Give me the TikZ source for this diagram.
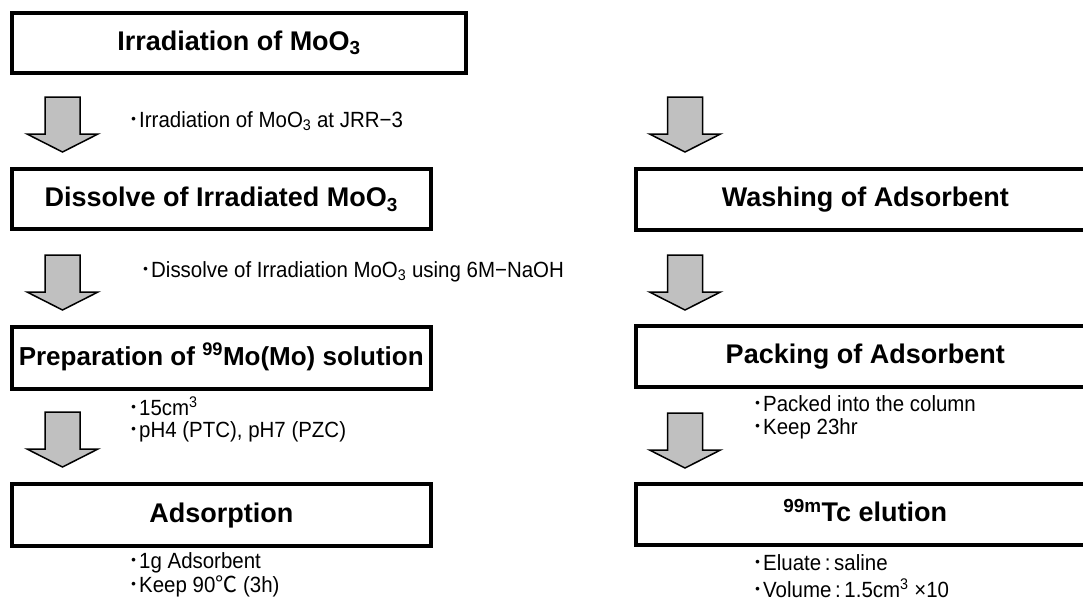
\documentclass[tikz,border=0pt]{standalone}
\usepackage{fontspec}
\setmainfont{Liberation Sans}
\newfontfamily\notefont[FakeStretch=0.93]{Liberation Sans}
\newfontfamily\jp{Noto Sans CJK JP}
\newcommand\bul{{\jp ･}}
\definecolor{arrowgray}{HTML}{C0C0C0}
\begin{document}
\begin{tikzpicture}[x=1pt,y=-1pt,
  box/.style={draw, line width=4pt, fill=white, inner sep=0pt,
    text height=19.5pt, text depth=4.5pt,
    font=\fontsize{27}{31}\selectfont\bfseries},
  note/.style={anchor=base west, inner sep=0pt,
    font=\notefont\fontsize{22}{26}\selectfont},
  garrow/.style={draw=black, line width=1.5pt, fill=arrowgray, line join=miter},
  downarrow/.pic={\draw[garrow] (-17.5,0) -- (17.5,0) -- (17.5,37) -- (35.5,37)
     -- (0,55) -- (-35.5,37) -- (-17.5,37) -- cycle;}]
\useasboundingbox (0,0) rectangle (1083,608);
\clip (0,0) rectangle (1083,608);
\fill[white] (0,0) rectangle (1083,608);

% left column boxes
\node[box, minimum width=454pt, minimum height=60.5pt] (b1) at (239,42.75)
  {Irradiation of MoO\textsubscript{3}};
\node[box, minimum width=418.5pt, minimum height=60pt] (b2) at (221.25,199)
  {Dissolve of Irradiated MoO\textsubscript{3}};
\node[box, minimum width=418.5pt, minimum height=62pt, font=\fontsize{26}{31}\selectfont\bfseries] (b3) at (221.25,357.5)
  {Preparation of \textsuperscript{99}Mo(Mo) solution};
\node[box, minimum width=418.5pt, minimum height=61.5pt] (b4) at (221.25,514.75)
  {Adsorption};

% right column boxes
\node[box, minimum width=459.5pt, minimum height=60.5pt] (r1) at (865.25,199.25)
  {Washing of Adsorbent};
\node[box, minimum width=459.5pt, minimum height=61pt] (r2) at (865.25,356)
  {Packing of Adsorbent};
\node[box, minimum width=459.5pt, minimum height=60.5pt] (r3) at (865.25,514.25)
  {\textsuperscript{99m}Tc elution};

% block arrows
\coordinate (al1) at (62.5,97);
\coordinate (al2) at (62.5,255);
\coordinate (al3) at (62.5,412);
\coordinate (ar1) at (685,97);
\coordinate (ar2) at (685,255);
\coordinate (ar3) at (685,413);
\pic at (al1) {downarrow};
\pic at (al2) {downarrow};
\pic at (al3) {downarrow};
\pic at (ar1) {downarrow};
\pic at (ar2) {downarrow};
\pic at (ar3) {downarrow};

% notes
\node[note] (n1) at (128,127) {\bul Irradiation of MoO\textsubscript{3} at JRR−3};
\node[note] (n2) at (140,277) {\bul Dissolve of Irradiation MoO\textsubscript{3} using 6M−NaOH};
\node[note, text depth=0pt] (n3a) at (128,415) {\bul 15cm\textsuperscript{3}};
\node[note] (n3b) at (128,437) {\bul pH4 (PTC), pH7 (PZC)};
\node[note] (n4a) at (128,568) {\bul 1g Adsorbent};
\node[note] (n4b) at (128,592) {\bul Keep 90{\jp ℃} (3h)};
\node[note] (n5a) at (752,411) {\bul Packed into the column};
\node[note] (n5b) at (752,434) {\bul Keep 23hr};
\node[note] (n6a) at (752,570) {\bul Eluate\,:\,saline};
\node[note] (n6b) at (752,597) {\bul Volume\,:\,1.5cm\textsuperscript{3} ×10};
\end{tikzpicture}
\end{document}
